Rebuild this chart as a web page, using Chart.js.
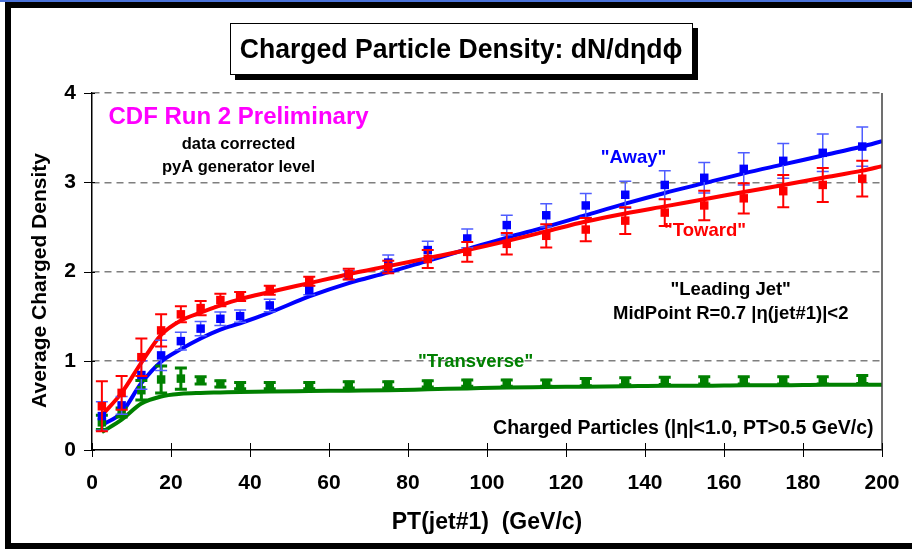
<!DOCTYPE html>
<html>
<head>
<meta charset="utf-8">
<script src="https://cdn.jsdelivr.net/npm/chart.js@4.4.1/dist/chart.umd.min.js"></script>
<style>
  html, body { margin: 0; padding: 0; background: #ffffff; }
  #wrap { width: 912px; height: 552px; position: relative; }
</style>
</head>
<body>
<div id="wrap"><canvas id="densityChart"></canvas></div>
<script>
// --- data ---
const ptBins = [2.5, 7.5, 12.5, 17.5, 22.5, 27.5, 32.5, 37.5, 45, 55, 65, 75, 85, 95, 105, 115, 125, 135, 145, 155, 165, 175, 185, 195];

const towardData = [0.49, 0.64, 1.04, 1.34, 1.52, 1.59, 1.68, 1.72, 1.79, 1.89, 1.97, 2.05, 2.14, 2.22, 2.31, 2.40, 2.47, 2.57, 2.66, 2.74, 2.82, 2.90, 2.97, 3.04];
const towardErr  = [0.28, 0.19, 0.21, 0.18, 0.09, 0.08, 0.07, 0.05, 0.05, 0.05, 0.06, 0.07, 0.10, 0.11, 0.12, 0.13, 0.13, 0.15, 0.15, 0.165, 0.17, 0.18, 0.19, 0.20];

const awayData = [0.38, 0.50, 0.84, 1.06, 1.22, 1.36, 1.47, 1.50, 1.62, 1.79, 1.96, 2.10, 2.24, 2.37, 2.52, 2.63, 2.74, 2.86, 2.97, 3.05, 3.15, 3.24, 3.33, 3.40];
const awayErr  = [0.16, 0.10, 0.16, 0.17, 0.10, 0.08, 0.075, 0.07, 0.07, 0.05, 0.05, 0.085, 0.10, 0.105, 0.11, 0.13, 0.135, 0.15, 0.16, 0.17, 0.18, 0.195, 0.21, 0.22];

const transData = [0.31, 0.42, 0.67, 0.79, 0.80, 0.78, 0.74, 0.72, 0.72, 0.72, 0.73, 0.73, 0.74, 0.75, 0.75, 0.75, 0.76, 0.77, 0.775, 0.78, 0.78, 0.78, 0.78, 0.79];
const transErr  = [0.08, 0.05, 0.11, 0.15, 0.12, 0.04, 0.035, 0.035, 0.035, 0.035, 0.035, 0.035, 0.035, 0.035, 0.035, 0.035, 0.04, 0.04, 0.04, 0.04, 0.04, 0.04, 0.04, 0.045];

// generator level curves (pyA)
const curveX        = [2.5, 7.5, 12.5, 17.5, 22.5, 27.5, 32.5, 37.5, 45, 55, 65, 75, 85, 95, 105, 115, 125, 135, 145, 155, 165, 175, 185, 195, 200];
const towardTheory  = [0.39, 0.64, 0.98, 1.29, 1.45, 1.54, 1.62, 1.69, 1.77, 1.87, 1.97, 2.06, 2.15, 2.24, 2.34, 2.45, 2.56, 2.65, 2.73, 2.81, 2.89, 2.97, 3.05, 3.13, 3.18];
const awayTheory    = [0.28, 0.42, 0.75, 0.99, 1.13, 1.25, 1.35, 1.42, 1.54, 1.72, 1.87, 1.99, 2.12, 2.25, 2.38, 2.50, 2.63, 2.76, 2.88, 2.99, 3.10, 3.20, 3.30, 3.40, 3.46];
const transTheory   = [0.20, 0.34, 0.52, 0.60, 0.63, 0.64, 0.645, 0.65, 0.655, 0.66, 0.665, 0.67, 0.68, 0.69, 0.70, 0.705, 0.71, 0.715, 0.72, 0.72, 0.725, 0.725, 0.73, 0.73, 0.73];

const xTicks = [0, 20, 40, 60, 80, 100, 120, 140, 160, 180, 200];
const yTicks = [0, 1, 2, 3, 4];

const RED = '#ff0000', BLUE = '#0000ff', GREEN = '#008000';
const SANS = '"Liberation Sans", Arial, sans-serif';

const pts = (xs, ys) => xs.map((x, i) => ({ x: x, y: ys[i] }));

// --- frame, title box, custom ticks, error bars, labels ---
const decorPlugin = {
    id: 'decor',
    beforeDraw(chart) {
        const ctx = chart.ctx;
        ctx.save();
        ctx.fillStyle = '#ffffff';
        ctx.fillRect(0, 0, chart.width, chart.height);
        // slide frame
        ctx.fillStyle = '#4a72d8';
        ctx.fillRect(0, 0, chart.width, 2);
        ctx.fillStyle = '#000000';
        ctx.fillRect(5, 2, chart.width, 6);
        ctx.fillRect(5, 2, 6, 547);
        ctx.fillRect(5, 543, chart.width, 6);
        // title box with shadow
        ctx.fillRect(235, 28, 463, 52);
        ctx.fillStyle = '#ffffff';
        ctx.fillRect(230, 23, 463, 52);
        ctx.strokeStyle = '#000000';
        ctx.lineWidth = 1;
        ctx.strokeRect(230.5, 23.5, 462, 51);
        // narrow-looking title: squeeze a bold sans horizontally
        ctx.fillStyle = '#000000';
        ctx.font = 'bold 28px ' + SANS;
        ctx.textAlign = 'center';
        ctx.textBaseline = 'middle';
        ctx.translate(461, 50);
        ctx.scale(0.95, 1);
        ctx.fillText('Charged Particle Density: dN/d\u03b7d\u03d5', 0, 0);
        ctx.restore();
    },
    afterDraw(chart) {
        const ctx = chart.ctx;
        const { left, right, top, bottom } = chart.chartArea;
        const xs = chart.scales.x, ys = chart.scales.y;
        ctx.save();
        // right border of plot
        ctx.strokeStyle = '#404040';
        ctx.lineWidth = 1.5;
        ctx.beginPath();
        ctx.moveTo(right, top);
        ctx.lineTo(right, bottom);
        ctx.stroke();
        // tick marks crossing the axes
        ctx.strokeStyle = '#000000';
        ctx.lineWidth = 1;
        xTicks.forEach(v => {
            const px = Math.round(xs.getPixelForValue(v)) + 0.5;
            ctx.beginPath();
            ctx.moveTo(px, bottom - 7);
            ctx.lineTo(px, bottom + 7);
            ctx.stroke();
        });
        yTicks.forEach(v => {
            const py = Math.round(ys.getPixelForValue(v)) + 0.5;
            ctx.beginPath();
            ctx.moveTo(left - 8, py);
            ctx.lineTo(left + 3, py);
            ctx.stroke();
        });
        // y axis title
        ctx.fillStyle = '#000000';
        ctx.font = 'bold 21px ' + SANS;
        ctx.textAlign = 'center';
        ctx.textBaseline = 'middle';
        ctx.translate(40, (top + bottom) / 2 + 9);
        ctx.rotate(-Math.PI / 2);
        ctx.fillText('Average Charged Density', 0, 0);
        ctx.restore();
    },
    beforeDatasetDraw(chart, args) {
        const ds = chart.data.datasets[args.index];
        if (!ds.errors) return;
        const ctx = chart.ctx;
        const xs = chart.scales.x, ys = chart.scales.y;
        ctx.save();
        ctx.strokeStyle = ds.errorColor;
        ctx.lineWidth = ds.errorWidth;
        ds.data.forEach((p, i) => {
            const px = xs.getPixelForValue(p.x);
            const y1 = ys.getPixelForValue(p.y + ds.errors[i]);
            const y2 = ys.getPixelForValue(p.y - ds.errors[i]);
            ctx.beginPath();
            ctx.moveTo(px, y1); ctx.lineTo(px, y2);
            ctx.moveTo(px - 6, y1); ctx.lineTo(px + 6, y1);
            ctx.moveTo(px - 6, y2); ctx.lineTo(px + 6, y2);
            ctx.stroke();
        });
        ctx.restore();
    },
    afterDatasetsDraw(chart) {
        const ctx = chart.ctx;
        const xs = chart.scales.x, ys = chart.scales.y;
        const notes = [
            { t: 'CDF Run 2 Preliminary', x: 37.1, y: 3.73, c: '#ff00ff', s: 24 },
            { t: 'data corrected', x: 37.1, y: 3.42, c: '#000000', s: 16.5 },
            { t: 'pyA generator level', x: 37.1, y: 3.17, c: '#000000', s: 16.5 },
            { t: '"Away"', x: 137.1, y: 3.27, c: BLUE, s: 18.5 },
            { t: '"Toward"', x: 155.2, y: 2.45, c: RED, s: 18.5 },
            { t: '"Leading Jet"', x: 161.7, y: 1.79, c: '#000000', s: 18.5 },
            { t: 'MidPoint R=0.7 |\u03b7(jet#1)|<2', x: 161.7, y: 1.52, c: '#000000', s: 18.5 },
            { t: '"Transverse"', x: 97.1, y: 0.99, c: GREEN, s: 18.5 },
            { t: 'Charged Particles (|\u03b7|<1.0, PT>0.5 GeV/c)', x: 149.7, y: 0.24, c: '#000000', s: 19.5 }
        ];
        ctx.save();
        ctx.textAlign = 'center';
        ctx.textBaseline = 'middle';
        notes.forEach(n => {
            ctx.font = 'bold ' + n.s + 'px ' + SANS;
            ctx.fillStyle = n.c;
            ctx.fillText(n.t, xs.getPixelForValue(n.x), ys.getPixelForValue(n.y));
        });
        ctx.restore();
    }
};

const lineSet = (label, ys, color) => ({
    label: label,
    type: 'line',
    data: pts(curveX, ys),
    borderColor: color,
    borderWidth: 4,
    pointRadius: 0,
    fill: false,
    cubicInterpolationMode: 'monotone',
    order: 2
});

const markerSet = (label, ys, errs, color, errColor, errWidth) => ({
    label: label,
    data: pts(ptBins, ys),
    errors: errs,
    errorColor: errColor,
    errorWidth: errWidth,
    backgroundColor: color,
    borderColor: color,
    borderWidth: 0,
    pointStyle: 'rect',
    pointRadius: 6,
    showLine: false,
    order: 1
});

new Chart(document.getElementById('densityChart').getContext('2d'), {
    type: 'scatter',
    data: {
        datasets: [
            lineSet('Toward pyA', towardTheory, RED),
            lineSet('Away pyA', awayTheory, BLUE),
            lineSet('Transverse pyA', transTheory, GREEN),
            markerSet('Toward', towardData, towardErr, RED, RED, 2),
            markerSet('Away', awayData, awayErr, BLUE, '#4f5dff', 1.5),
            markerSet('Transverse', transData, transErr, GREEN, GREEN, 3)
        ]
    },
    options: {
        responsive: true,
        maintainAspectRatio: false,
        animation: false,
        layout: { padding: { left: 0, top: 93, right: 30, bottom: 0 } },
        plugins: {
            legend: { display: false },
            tooltip: { enabled: false }
        },
        scales: {
            x: {
                type: 'linear',
                min: 0,
                max: 200,
                afterBuildTicks: s => { s.ticks = xTicks.map(v => ({ value: v })); },
                afterFit: s => { s.height = 102; s.paddingLeft = 0; s.paddingRight = 0; },
                ticks: { color: '#000000', font: { family: SANS, size: 21, weight: 'bold' }, padding: 13, maxRotation: 0 },
                grid: { display: false },
                border: { display: true, color: '#000000', width: 1.5 },
                title: {
                    display: true,
                    text: 'PT(jet#1)  (GeV/c)',
                    color: '#000000',
                    font: { family: SANS, size: 23, weight: 'bold' },
                    padding: { top: 0, bottom: 16 }
                }
            },
            y: {
                min: 0,
                max: 4,
                afterBuildTicks: s => { s.ticks = yTicks.map(v => ({ value: v })); },
                afterFit: s => { s.width = 92; s.paddingTop = 0; s.paddingBottom = 0; },
                ticks: { color: '#000000', font: { family: SANS, size: 21, weight: 'bold' }, padding: 16 },
                grid: {
                    drawTicks: false,
                    lineWidth: 1.5,
                    color: c => (c.tick && c.tick.value === 0) ? 'rgba(0,0,0,0)' : '#7f7f7f'
                },
                border: { display: true, color: '#000000', width: 1.5, dash: [7, 5] },
                title: { display: false }
            }
        }
    },
    plugins: [decorPlugin]
});
</script>
</body>
</html>
